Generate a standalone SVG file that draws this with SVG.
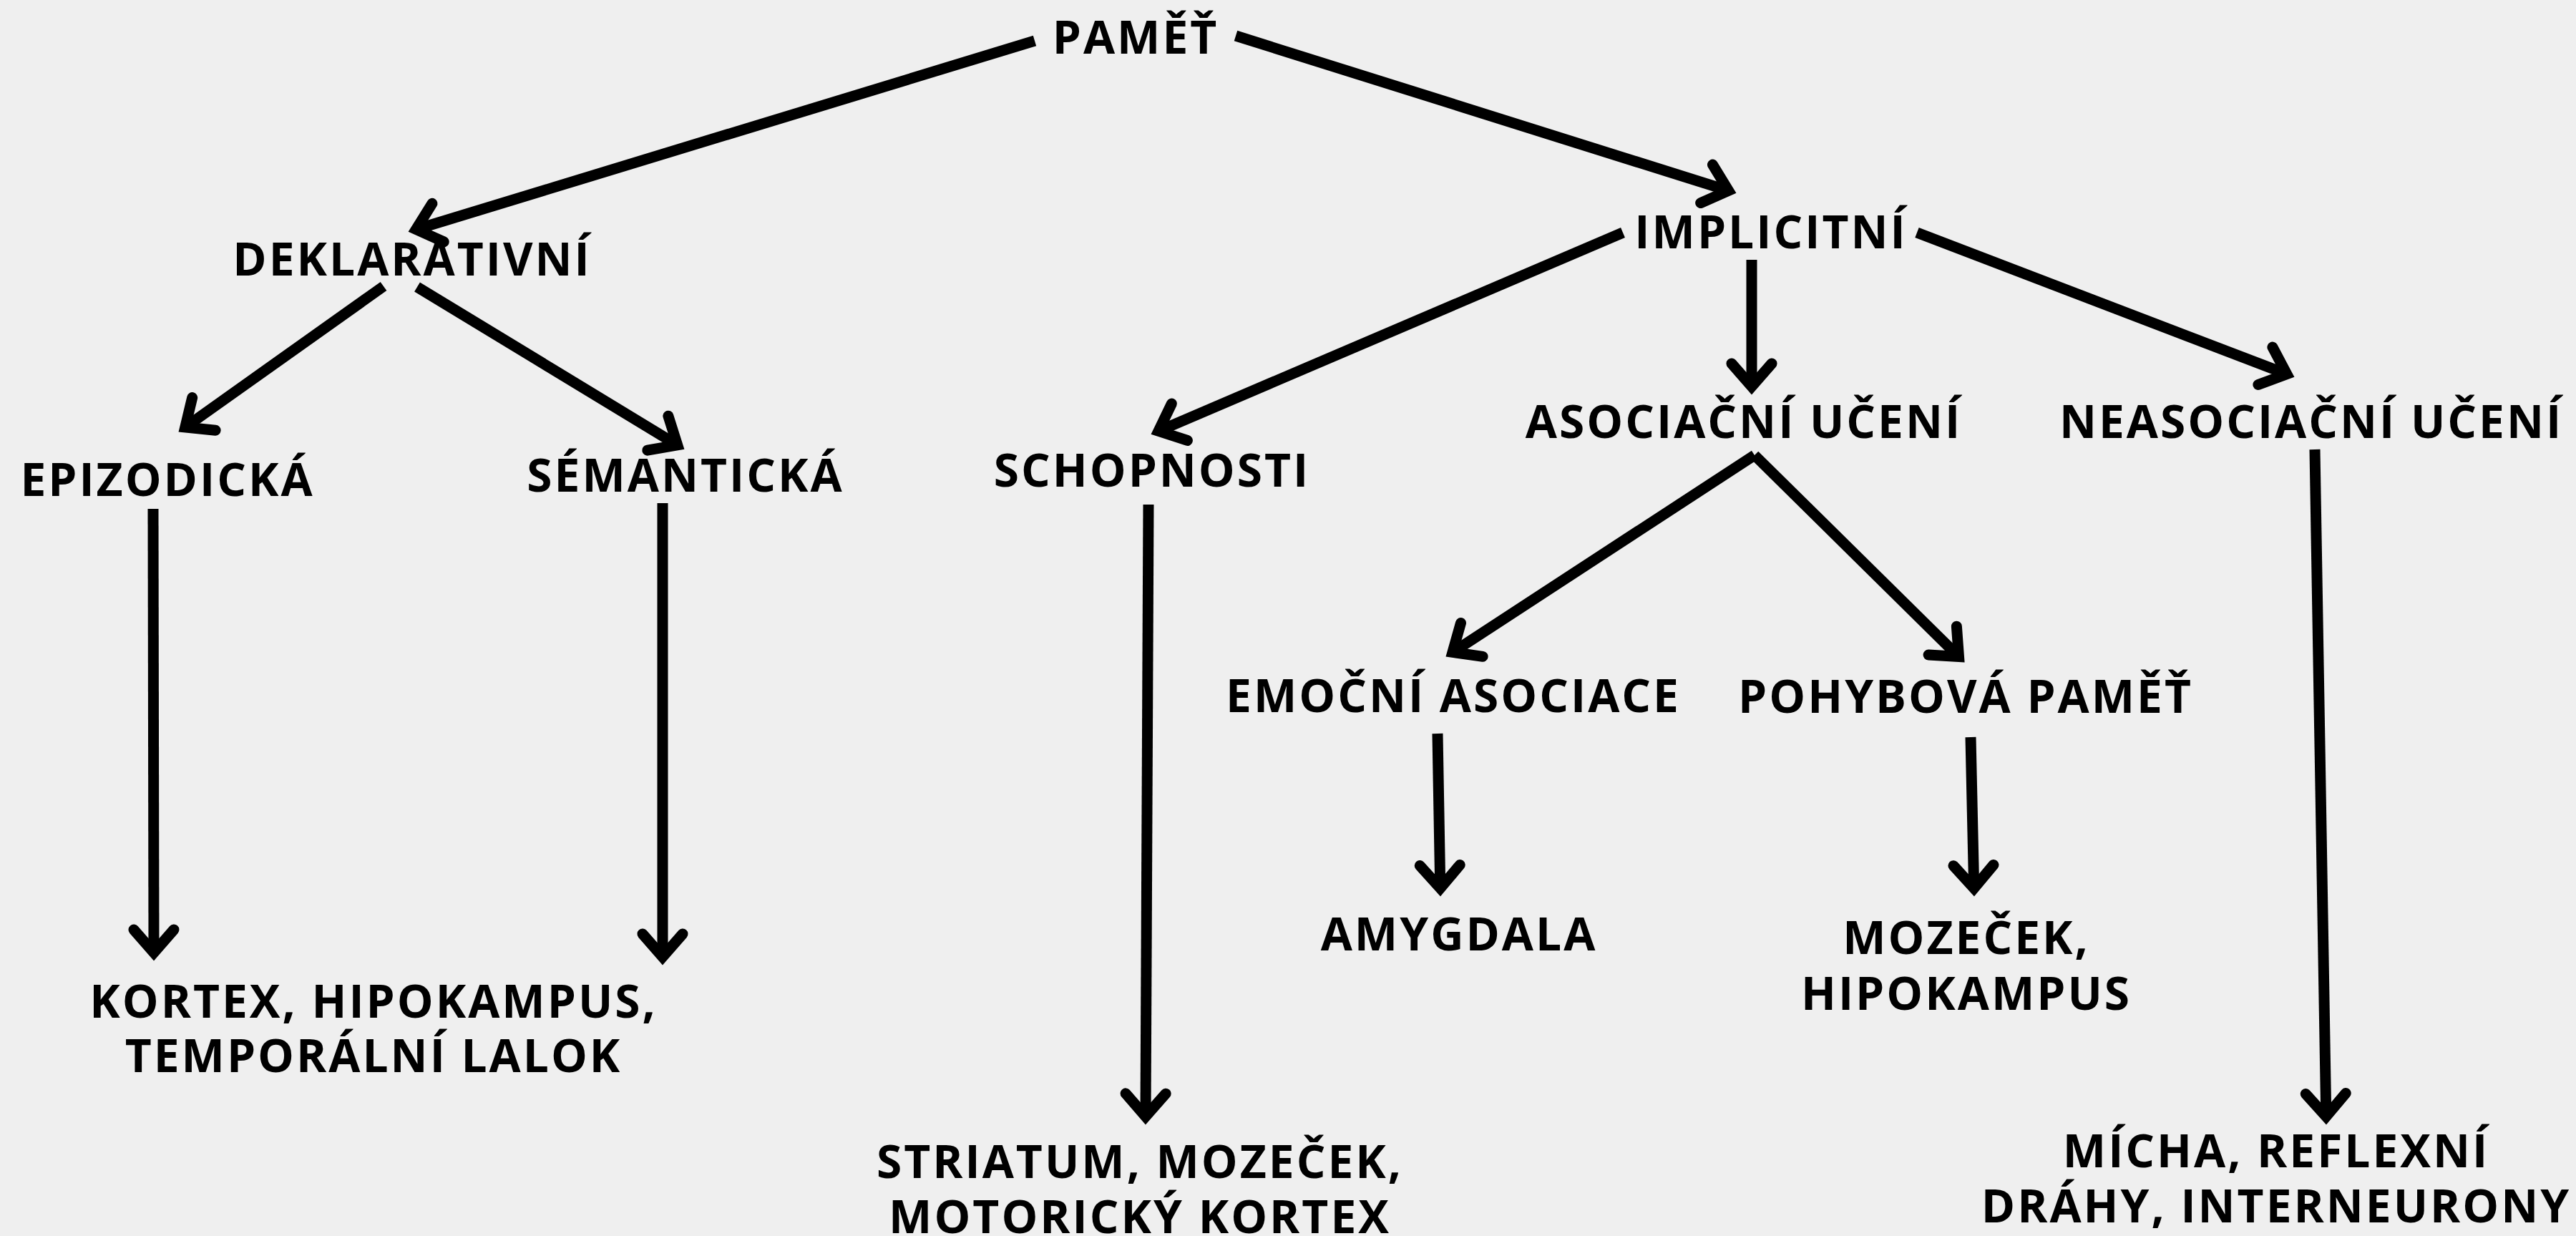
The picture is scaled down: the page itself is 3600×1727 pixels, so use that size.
<svg xmlns="http://www.w3.org/2000/svg" width="3600" height="1727" viewBox="0 0 3600 1727">
<defs>
<style>
text{font-family:"Open Sans","Liberation Sans",sans-serif;font-weight:700;font-size:64px;letter-spacing:3px;fill:#000;text-anchor:middle}
.c line{stroke:#000;stroke-width:15;stroke-linecap:butt;marker-end:url(#ah)}
</style>
<marker id="ah" markerUnits="userSpaceOnUse" markerWidth="100" markerHeight="100" refX="0" refY="0" orient="auto" overflow="visible" viewBox="-50 -50 100 100">
<path d="M-32,-28 L0,0 L-32,28" fill="none" stroke="#000" stroke-width="15" stroke-linecap="round" stroke-linejoin="miter"/>
</marker>
</defs>
<rect width="3600" height="1727" fill="#efefef"/>
<g id="connectors" class="c">
<line x1="1446" y1="57" x2="581.5" y2="320.5"/>
<line x1="1727" y1="50" x2="2415.6" y2="266.4"/>
<line x1="536" y1="400" x2="258.8" y2="597"/>
<line x1="583" y1="401" x2="946.7" y2="621.8"/>
<line x1="214" y1="711" x2="215" y2="1331"/>
<line x1="926" y1="703" x2="926" y2="1337"/>
<line x1="2268" y1="325" x2="1619" y2="602.3"/>
<line x1="2448" y1="363" x2="2448" y2="540"/>
<line x1="2679" y1="325" x2="3195.8" y2="522.7"/>
<line x1="2452" y1="636" x2="2030" y2="911.4"/>
<line x1="2452" y1="636" x2="2737.5" y2="917.6"/>
<line x1="2009" y1="1025" x2="2012.8" y2="1241"/>
<line x1="2754" y1="1030" x2="2758.7" y2="1241"/>
<line x1="1605" y1="705" x2="1601" y2="1560"/>
<line x1="3235" y1="628" x2="3250.8" y2="1560"/>
</g>
<g id="pamet"><text x="1587" y="75">PAMĚŤ</text></g>
<g id="deklarativni"><text x="576" y="385">DEKLARATIVNÍ</text></g>
<g id="implicitni"><text x="2475" y="347">IMPLICITNÍ</text></g>
<g id="epizodicka"><text x="234" y="693">EPIZODICKÁ</text></g>
<g id="semanticka"><text x="958" y="687">SÉMANTICKÁ</text></g>
<g id="schopnosti"><text x="1610" y="680">SCHOPNOSTI</text></g>
<g id="asociacni"><text x="2437" y="612">ASOCIAČNÍ UČENÍ</text></g>
<g id="neasociacni"><text x="3230" y="612">NEASOCIAČNÍ UČENÍ</text></g>
<g id="emocni"><text x="2031" y="995">EMOČNÍ ASOCIACE</text></g>
<g id="pohybova"><text x="2747" y="996">POHYBOVÁ PAMĚŤ</text></g>
<g id="amygdala"><text x="2039" y="1328">AMYGDALA</text></g>
<g id="mozecek"><text x="2748" y="1333">MOZEČEK,</text><text x="2748" y="1411">HIPOKAMPUS</text></g>
<g id="kortex"><text x="522" y="1422">KORTEX, HIPOKAMPUS,</text><text x="522" y="1498">TEMPORÁLNÍ LALOK</text></g>
<g id="striatum"><text x="1593" y="1646">STRIATUM, MOZEČEK,</text><text x="1593" y="1723">MOTORICKÝ KORTEX</text></g>
<g id="micha"><text x="3181" y="1631">MÍCHA, REFLEXNÍ</text><text x="3181" y="1708">DRÁHY, INTERNEURONY</text></g>
</svg>
